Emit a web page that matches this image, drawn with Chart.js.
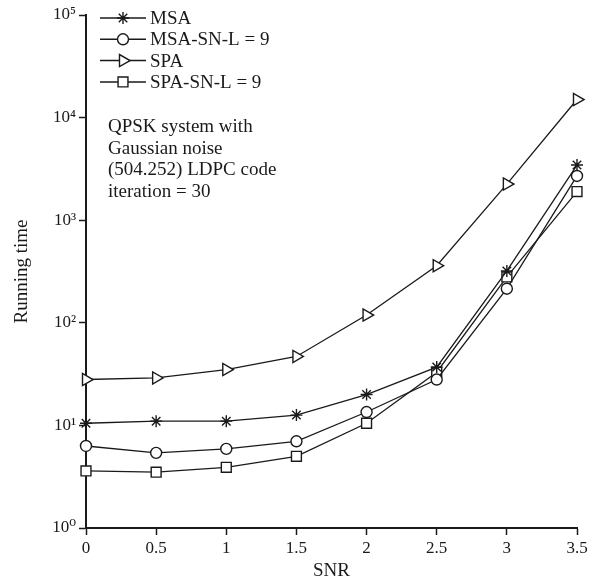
<!DOCTYPE html>
<html>
<head>
<meta charset="utf-8">
<script src="https://cdn.jsdelivr.net/npm/chart.js@4"></script>
<style>
  body { margin: 0; background: #fff; }
  #wrap { width: 592px; height: 586px; }
</style>
</head>
<body>
<div id="wrap"><canvas id="myChart" width="592" height="586"></canvas></div>
<script>
// SNR values on the x axis
var snr = [0, 0.5, 1, 1.5, 2, 2.5, 3, 3.5];

// running time for each algorithm
var msa      = [10.5, 11, 11, 12.6, 20, 37, 320, 3450];
var msaSnL9  = [6.3, 5.4, 5.9, 7.0, 13.5, 28, 215, 2700];
var spa      = [28, 29, 35, 47, 119, 360, 2250, 15000];
var spaSnL9  = [3.6, 3.5, 3.9, 5.0, 10.5, 33, 280, 1900];

var seriesNames = ['MSA', 'MSA-SN-L = 9', 'SPA', 'SPA-SN-L = 9'];
var yTickLabels = ['10\u2070', '10\u00b9', '10\u00b2', '10\u00b3', '10\u2074', '10\u2075'];
var noteLines = ['QPSK system with', 'Gaussian noise', '(504.252) LDPC code', 'iteration = 30'];

var serif = '"Liberation Serif", "DejaVu Serif", serif';
var ink = '#1a1a1a';

function toPoints(values) {
    return snr.map(function(x, i) { return { x: x, y: values[i] }; });
}

function makeSet(label, values, style, radius, rotation) {
    return {
        label: label,
        data: toPoints(values),
        borderColor: ink,
        backgroundColor: '#fff',
        borderWidth: 1.3,
        pointStyle: style,
        pointRadius: radius,
        pointRotation: rotation || 0,
        pointBorderColor: ink,
        pointBackgroundColor: '#fff',
        pointBorderWidth: 1.4,
        tension: 0,
        clip: false
    };
}

// legend with a line through each marker, plus the note text
var legendNote = {
    id: 'legendNote',
    afterDraw: function(chart) {
        var ctx = chart.ctx;
        var area = chart.chartArea;
        ctx.save();
        ctx.font = '19px ' + serif;
        ctx.fillStyle = ink;
        ctx.textBaseline = 'middle';
        chart.data.datasets.forEach(function(ds, i) {
            var y = area.top + 3 + i * 21.3;
            var x0 = area.left + 14, x1 = area.left + 60;
            ctx.strokeStyle = ink;
            ctx.lineWidth = 1.5;
            ctx.beginPath();
            ctx.moveTo(x0, y);
            ctx.lineTo(x1, y);
            ctx.stroke();
            ctx.fillStyle = '#fff';
            ctx.lineWidth = ds.pointBorderWidth;
            Chart.helpers.drawPoint(ctx, {
                pointStyle: ds.pointStyle,
                rotation: ds.pointRotation,
                radius: ds.pointRadius,
                borderWidth: ds.pointBorderWidth
            }, (x0 + x1) / 2, y);
            ctx.fillStyle = ink;
            ctx.fillText(seriesNames[i], x1 + 4, y + 1);
        });
        noteLines.forEach(function(line, i) {
            ctx.fillText(line, area.left + 22, 127 + i * 21.7);
        });
        ctx.restore();
    }
};

var ctx = document.getElementById('myChart').getContext('2d');
var chart = new Chart(ctx, {
    type: 'line',
    data: {
        datasets: [
            makeSet(seriesNames[0], msa, 'star', 6),
            makeSet(seriesNames[1], msaSnL9, 'circle', 5.5),
            makeSet(seriesNames[2], spa, 'triangle', 7, 90),
            makeSet(seriesNames[3], spaSnL9, 'rect', 7)
        ]
    },
    options: {
        responsive: false,
        animation: false,
        layout: { padding: { top: 15, right: 15, left: 0, bottom: 0 } },
        plugins: {
            legend: { display: false },
            tooltip: { enabled: false }
        },
        scales: {
            x: {
                type: 'linear',
                min: 0,
                max: 3.5,
                ticks: {
                    stepSize: 0.5,
                    color: ink,
                    padding: 3,
                    font: { family: serif, size: 17 },
                    callback: function(v) { return String(v); }
                },
                grid: { drawOnChartArea: false, color: ink, tickLength: 7, tickWidth: 1.5 },
                border: { color: ink, width: 2 },
                title: {
                    display: true,
                    text: 'SNR',
                    color: ink,
                    padding: { top: 6 },
                    font: { family: serif, size: 19 }
                },
                afterFit: function(scale) { scale.height = 58; }
            },
            y: {
                type: 'logarithmic',
                min: 1,
                max: 100000,
                afterBuildTicks: function(scale) {
                    scale.ticks = yTickLabels.map(function(t, i) { return { value: Math.pow(10, i) }; });
                },
                ticks: {
                    color: ink,
                    padding: 3,
                    font: { family: serif, size: 17 },
                    callback: function(v) {
                        var i = Math.round(Math.log10(v));
                        return yTickLabels[i];
                    }
                },
                grid: { drawOnChartArea: false, color: ink, tickLength: 7, tickWidth: 1.5 },
                border: { color: ink, width: 2 },
                title: {
                    display: true,
                    text: 'Running time',
                    color: ink,
                    padding: { top: 11 },
                    font: { family: serif, size: 19 }
                },
                afterFit: function(scale) { scale.width = 86; }
            }
        }
    },
    plugins: [legendNote]
});
</script>
</body>
</html>
